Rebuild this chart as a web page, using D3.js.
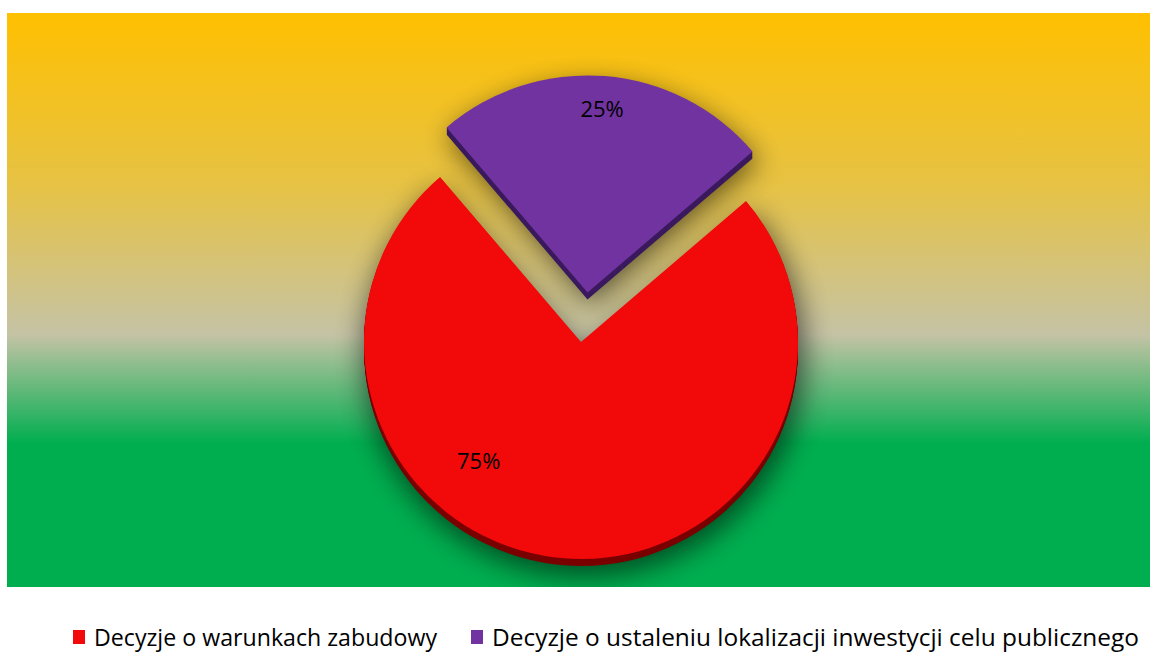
<!DOCTYPE html>
<html>
<head>
<meta charset="utf-8">
<script src="https://cdn.jsdelivr.net/npm/d3@7"></script>
<style>
  html, body { margin: 0; padding: 0; background: #fff; }
  svg { display: block; }
</style>
</head>
<body>
<svg id="chart" width="1157" height="652"></svg>
<script>
// data
var categories = ["Decyzje o warunkach zabudowy", "Decyzje o ustaleniu lokalizacji inwestycji celu publicznego"];
var values = [75, 25];
var labels = ["75%", "25%"];
var colors = ["#f20a0a", "#7133a0"];
var sideColors = ["#7a0000", "#3b1a5e"];

var svg = d3.select("#chart");
var defs = svg.append("defs");

// background gradient
var bg = defs.append("linearGradient").attr("id", "bg")
    .attr("x1", 0).attr("y1", 0).attr("x2", 0).attr("y2", 1);
bg.append("stop").attr("offset", "0%").attr("stop-color", "#ffc000");
bg.append("stop").attr("offset", "30%").attr("stop-color", "#e6c244");
bg.append("stop").attr("offset", "56%").attr("stop-color", "#c5c3a5");
bg.append("stop").attr("offset", "75%").attr("stop-color", "#00ae4f");
bg.append("stop").attr("offset", "100%").attr("stop-color", "#00ae4f");

var sh = defs.append("filter").attr("id", "shadow")
    .attr("x", "-30%").attr("y", "-30%").attr("width", "160%").attr("height", "160%");
sh.append("feGaussianBlur").attr("in", "SourceAlpha").attr("stdDeviation", 14).attr("result", "b");
sh.append("feOffset").attr("in", "b").attr("dx", 3).attr("dy", 6).attr("result", "o");
sh.append("feComponentTransfer").attr("in", "o").attr("result", "s")
  .append("feFuncA").attr("type", "linear").attr("slope", 0.75);

var plot = { x: 7, y: 13, w: 1143, h: 574 };
defs.append("clipPath").attr("id", "plotclip")
  .append("rect").attr("x", plot.x).attr("y", plot.y).attr("width", plot.w).attr("height", plot.h);

svg.append("rect")
    .attr("x", plot.x).attr("y", plot.y).attr("width", plot.w).attr("height", plot.h)
    .attr("fill", "url(#bg)");

var cx = 581, cy = 342, r = 217, depth = 7, explode = 50;
var deg = Math.PI / 180;

var pie = d3.pie().sort(null).startAngle(49.5 * deg).endAngle(409.5 * deg);
var arcs = pie(values);
var arc = d3.arc().innerRadius(0).outerRadius(r);

function offset(d, i) {
  if (i !== 1) return [0, 0];
  var a = (d.startAngle + d.endAngle) / 2 + 3 * deg;
  return [explode * Math.sin(a), -explode * Math.cos(a)];
}

var clipped = svg.append("g").attr("clip-path", "url(#plotclip)");
var g = clipped.append("g").attr("transform", "translate(" + cx + "," + cy + ")");

// shadows
g.selectAll("path.shadow").data(arcs).enter().append("path")
    .attr("class", "shadow")
    .attr("transform", function(d, i) { var o = offset(d, i); return "translate(" + o[0] + "," + (o[1] + depth) + ")"; })
    .attr("d", d3.arc().innerRadius(0).outerRadius(r + 4))
    .attr("fill", "#000")
    .attr("opacity", 0.75)
    .attr("filter", "url(#shadow)");

// sides (extrusion)
var slices = g.selectAll("g.slice").data(arcs).enter().append("g")
    .attr("class", "slice")
    .attr("transform", function(d, i) { var o = offset(d, i); return "translate(" + o[0] + "," + o[1] + ")"; });

slices.each(function(d, i) {
  var s = d3.select(this);
  for (var k = depth; k > 0; k--) {
    s.append("path").attr("d", arc(d))
      .attr("transform", "translate(0," + k + ")")
      .attr("fill", sideColors[i]);
  }
  s.append("path").attr("d", arc(d)).attr("fill", colors[i]);
});

// labels
var labelPos = [
  { angle: 221 * deg, radius: 156 },
  { angle: null, radius: 185 }
];
arcs.forEach(function(d, i) {
  var o = offset(d, i);
  var a = labelPos[i].angle !== null ? labelPos[i].angle : (d.startAngle + d.endAngle) / 2;
  var p = [Math.sin(a) * labelPos[i].radius + o[0], -Math.cos(a) * labelPos[i].radius + o[1]];
  g.append("text")
    .attr("x", p[0]).attr("y", p[1])
    .attr("text-anchor", "middle").attr("dominant-baseline", "central")
    .attr("font-family", "'Open Sans', sans-serif")
    .attr("font-size", 22)
    .attr("fill", "#000")
    .text(labels[i]);
});

// legend
var legendX = [73, 471];
var legendW = [343, 647];
var lg = svg.selectAll("g.legend").data(categories).enter().append("g")
    .attr("class", "legend")
    .attr("transform", function(d, i) { return "translate(" + legendX[i] + ",637)"; });
lg.append("rect").attr("x", 0).attr("y", -7).attr("width", 12).attr("height", 14)
    .attr("fill", function(d, i) { return colors[i]; });
lg.append("text").attr("x", 21).attr("y", 0)
    .attr("dominant-baseline", "central")
    .attr("font-family", "'Open Sans', sans-serif")
    .attr("font-size", 23)
    .attr("textLength", function(d, i) { return legendW[i]; })
    .attr("lengthAdjust", "spacingAndGlyphs")
    .attr("fill", "#000")
    .text(function(d) { return d; });
</script>
</body>
</html>
